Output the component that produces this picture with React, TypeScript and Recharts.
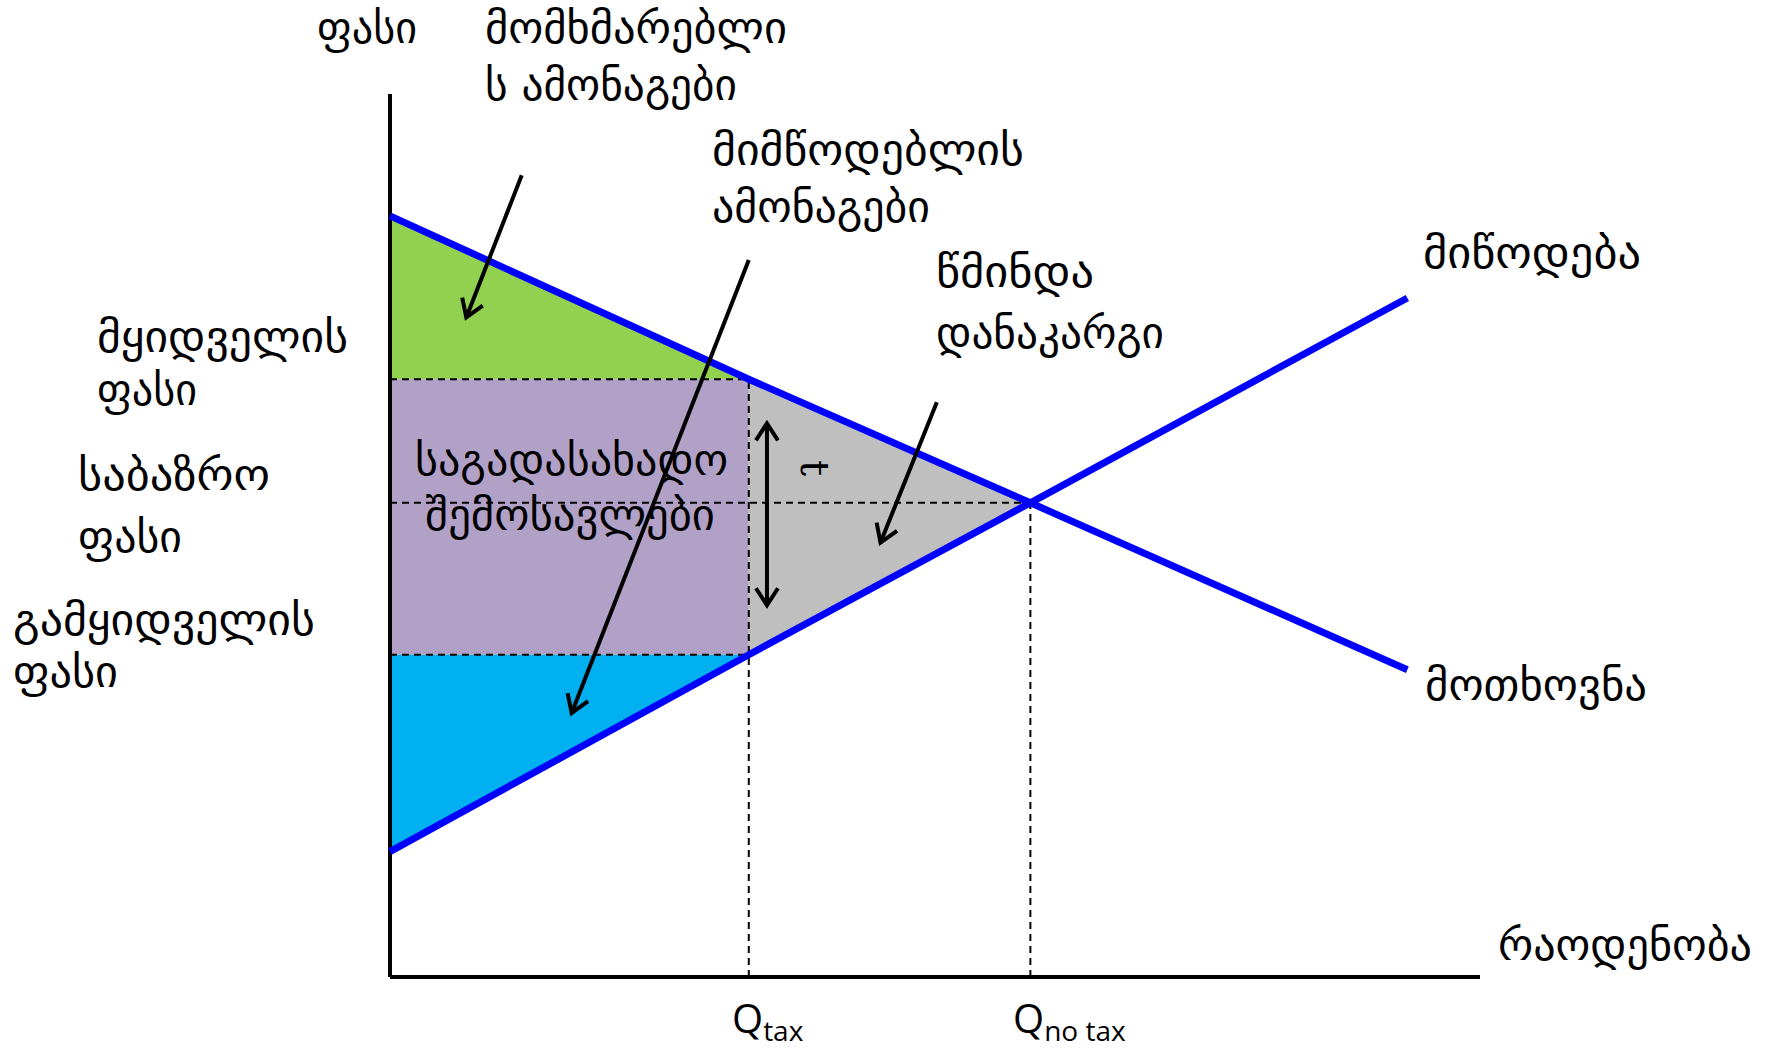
import React from "react";
import { ComposedChart, Area, Line, XAxis, YAxis, ReferenceLine } from "recharts";

const quantities = [0, 3.95, 7.05, 11.2];
const demandPrice = [8.62, 6.77, 5.37, 3.48];
const supplyPrice = [1.42, 3.65, 5.37, 7.69];

const qTax = 3.95;
const qNoTax = 7.05;
const buyerPrice = 6.77;
const sellerPrice = 3.65;
const marketPrice = 5.37;

const qMax = 12;
const pMax = 10;

// arrows as [from, to] in (quantity, price)
const consumerArrow = [[1.45, 9.08], [0.84, 7.47]];
const producerArrow = [[3.95, 8.12], [2.0, 2.99]];
const deadweightArrow = [[6.02, 6.51], [5.4, 4.92]];
const taxArrow = [[4.15, 6.27], [4.15, 4.21]];

// text, x, baseline, width
const labels: [string, number, number, number][] = [
  ["ფასი", 317, 43, 100],
  ["მომხმარებლი", 485, 43, 302],
  ["ს ამონაგები", 485, 100, 252],
  ["მიმწოდებლის", 712, 165, 312],
  ["ამონაგები", 712, 222, 218],
  ["მიწოდება", 1423, 268, 218],
  ["წმინდა", 936, 287, 158],
  ["დანაკარგი", 936, 348, 228],
  ["მყიდველის", 97, 352, 251],
  ["ფასი", 97, 405, 100],
  ["საბაზრო", 78, 490, 192],
  ["ფასი", 78, 552, 104],
  ["გამყიდველის", 13, 635, 302],
  ["ფასი", 13, 687, 105],
  ["საგადასახადო", 415, 475, 313],
  ["შემოსავლები", 425, 530, 290],
  ["მოთხოვნა", 1425, 700, 222],
  ["რაოდენობა", 1498, 960, 254],
];

const rows = quantities.map((q, i) => {
  const left = q <= qTax;
  const mid = q >= qTax && q <= qNoTax;
  return {
    q,
    demand: demandPrice[i],
    supply: supplyPrice[i],
    consumer: left ? [buyerPrice, demandPrice[i]] : null,
    revenue: left ? [sellerPrice, buyerPrice] : null,
    producer: left ? [supplyPrice[i], sellerPrice] : null,
    deadweight: mid ? [supplyPrice[i], demandPrice[i]] : null,
  };
});

const dashed = { stroke: "#000", strokeWidth: 2, strokeDasharray: "7 5" };

function arrowShape(both: boolean) {
  return (p: any) => (
    <line
      x1={p.x1}
      y1={p.y1}
      x2={p.x2}
      y2={p.y2}
      stroke="#000"
      strokeWidth={4}
      markerEnd="url(#head)"
      markerStart={both ? "url(#head)" : undefined}
    />
  );
}

function arrow(a: number[][], both = false) {
  return (
    <ReferenceLine
      segment={[{ x: a[0][0], y: a[0][1] }, { x: a[1][0], y: a[1][1] }]}
      shape={arrowShape(both)}
    />
  );
}

export default function App() {
  return (
    <div style={{ position: "absolute", left: 0, top: 0, width: 1768, height: 1050, background: "#fff" }}>
      <ComposedChart
        width={1768}
        height={1050}
        data={rows}
        margin={{ top: 94, right: 288, bottom: 73, left: 390 }}
      >
        <XAxis type="number" dataKey="q" domain={[0, qMax]} hide />
        <YAxis type="number" domain={[0, pMax]} hide />
        <Area dataKey="consumer" type="linear" fill="#92D050" fillOpacity={1} stroke="none" activeDot={false} isAnimationActive={false} />
        <Area dataKey="revenue" type="linear" fill="#B2A1C7" fillOpacity={1} stroke="none" activeDot={false} isAnimationActive={false} />
        <Area dataKey="producer" type="linear" fill="#00B0F0" fillOpacity={1} stroke="none" activeDot={false} isAnimationActive={false} />
        <Area dataKey="deadweight" type="linear" fill="#BFBFBF" fillOpacity={1} stroke="none" activeDot={false} isAnimationActive={false} />
        <ReferenceLine segment={[{ x: 0, y: buyerPrice }, { x: qTax, y: buyerPrice }]} {...dashed} />
        <ReferenceLine segment={[{ x: 0, y: sellerPrice }, { x: qTax, y: sellerPrice }]} {...dashed} />
        <ReferenceLine segment={[{ x: 0, y: marketPrice }, { x: qNoTax, y: marketPrice }]} {...dashed} />
        <ReferenceLine segment={[{ x: qTax, y: 0 }, { x: qTax, y: buyerPrice }]} {...dashed} />
        <ReferenceLine segment={[{ x: qNoTax, y: 0 }, { x: qNoTax, y: marketPrice }]} {...dashed} />
        {/* axes */}
        <ReferenceLine segment={[{ x: 0, y: 0 }, { x: 0, y: pMax }]} stroke="#000" strokeWidth={4} />
        <ReferenceLine segment={[{ x: 0, y: 0 }, { x: qMax, y: 0 }]} stroke="#000" strokeWidth={4} />
        <Line dataKey="demand" type="linear" stroke="#0000FF" strokeWidth={7} dot={false} activeDot={false} isAnimationActive={false} />
        <Line dataKey="supply" type="linear" stroke="#0000FF" strokeWidth={7} dot={false} activeDot={false} isAnimationActive={false} />
        {arrow(consumerArrow)}
        {arrow(producerArrow)}
        {arrow(deadweightArrow)}
        {arrow(taxArrow, true)}
      </ComposedChart>
      <svg
        width={1768}
        height={1050}
        style={{ position: "absolute", left: 0, top: 0, pointerEvents: "none" }}
      >
        <defs>
          <marker
            id="head"
            markerUnits="userSpaceOnUse"
            markerWidth={30}
            markerHeight={30}
            viewBox="0 0 30 30"
            refX={22}
            refY={15}
            orient="auto-start-reverse"
          >
            <path d="M5,4 L22,15 L5,26" fill="none" stroke="#000" strokeWidth={4} />
          </marker>
        </defs>
        {labels.map(([t, x, y, w], i) => (
          <text
            key={i}
            x={x}
            y={y}
            fontFamily="DejaVu Sans"
            fontSize={44}
            textLength={w}
            lengthAdjust="spacingAndGlyphs"
            fill="#000"
          >
            {t}
          </text>
        ))}
        <text transform="translate(815,468) rotate(90)" textAnchor="middle" dominantBaseline="central" fontFamily="DejaVu Serif" fontSize={40}>
          t
        </text>
        <text x={732} y={1033} fontFamily="Open Sans" fontSize={40}>
          Q<tspan fontSize={28} dy={8}>tax</tspan>
        </text>
        <text x={1013} y={1033} fontFamily="Open Sans" fontSize={40}>
          Q<tspan fontSize={28} dy={8}>no tax</tspan>
        </text>
      </svg>
    </div>
  );
}
